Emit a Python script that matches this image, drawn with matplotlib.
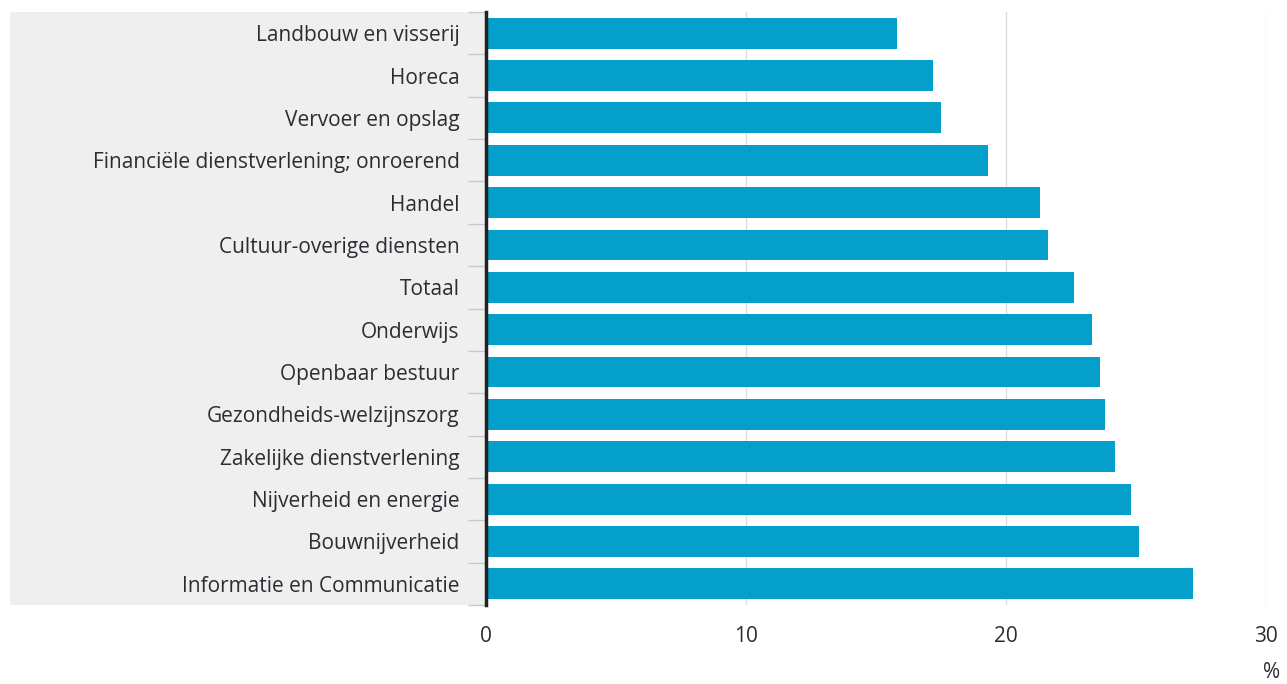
import matplotlib.pyplot as plt
from matplotlib.patches import Rectangle

categories = [
    'Landbouw en visserij',
    'Horeca',
    'Vervoer en opslag',
    'Financiële dienstverlening; onroerend',
    'Handel',
    'Cultuur-overige diensten',
    'Totaal',
    'Onderwijs',
    'Openbaar bestuur',
    'Gezondheids-welzijnszorg',
    'Zakelijke dienstverlening',
    'Nijverheid en energie',
    'Bouwnijverheid',
    'Informatie en Communicatie',
]
values = [15.8, 17.2, 17.5, 19.3, 21.3, 21.6, 22.6, 23.3, 23.6, 23.8, 24.2, 24.8, 25.1, 27.2]
xticks = [0, 10, 20, 30]

plt.rcParams['font.family'] = ['Open Sans', 'DejaVu Sans']

fig = plt.figure(figsize=(12.87, 6.84), dpi=100)
W, H = 1287, 684

# grey band behind the category labels
fig.patches.append(Rectangle((10 / W, 1 - 605 / H), 475 / W, 593 / H,
                             transform=fig.transFigure, facecolor='#efefef',
                             edgecolor='none', zorder=-5))

ax = fig.add_axes([486 / W, 1 - 605 / H, 780 / W, 593 / H])
ax.patch.set_alpha(0)

y = list(range(len(categories)))
ax.barh(y, values, height=0.73, color='#04a0cb', zorder=3)
ax.set_ylim(len(categories) - 0.5, -0.5)
ax.set_xlim(0, 30)

ax.set_yticks(y)
ax.set_yticklabels(categories, fontsize=15, color='#2b2d33')
ax.set_yticks([i + 0.5 for i in range(-1, len(categories))], minor=True)
ax.set_xticks(xticks)
ax.set_xticklabels([str(t) for t in xticks], fontsize=15, color='#2b2d33')
ax.tick_params(axis='y', which='major', length=0, pad=19)
ax.tick_params(axis='y', which='minor', length=13, width=1, color='#c8c8c8')
ax.tick_params(axis='x', length=0, pad=15)

ax.grid(axis='x', color='#dddddd', linewidth=1, zorder=0)
for s in ['top', 'right', 'bottom']:
    ax.spines[s].set_visible(False)
ax.spines['left'].set_color('#222222')
ax.spines['left'].set_linewidth(2.5)
ax.spines['left'].set_zorder(4)

fig.text(1272 / W, 1 - 673 / H, '%', ha='center', va='center', fontsize=15, color='#2b2d33')

fig.savefig('out.png', dpi=100)
